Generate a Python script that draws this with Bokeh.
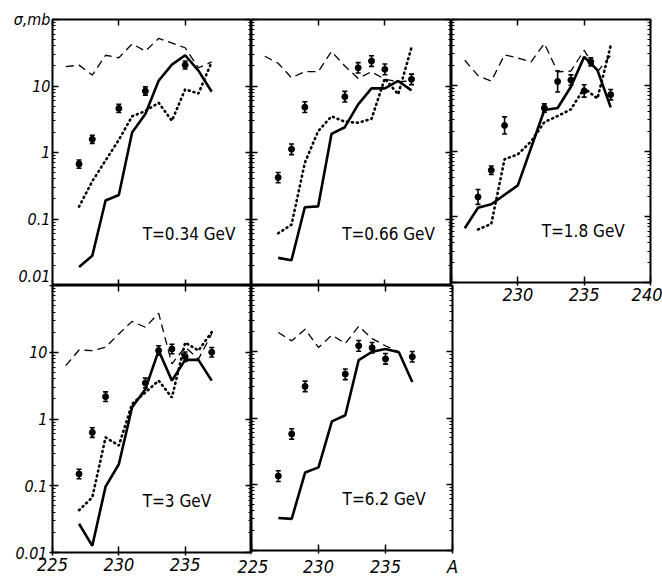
import json
from bokeh.plotting import figure
from bokeh.models import (FixedTicker, LogAxis, LinearAxis, Range1d, Whisker, TeeHead,
                          ColumnDataSource, CustomJSTickFormatter)
from bokeh.layouts import row, column
from bokeh.core.properties import value
from bokeh.embed import file_html
from bokeh.resources import INLINE

FONT = "DejaVu Sans Condensed, Liberation Sans Narrow, Liberation Sans, sans-serif"

# ---------------- data (mass number A, cross section sigma in mb) ----------------
# Panel 1: T = 0.34 GeV
solid1_x = [227, 228, 229, 230, 231, 232, 233, 234, 235, 236, 237]
solid1_y = [0.019, 0.028, 0.19, 0.23, 2.0, 3.8, 12, 21, 29, 17, 8.2]
dash1_x = [226, 227, 228, 229, 230, 231, 232, 233, 235, 236, 237]
dash1_y = [19.5, 20.6, 14.6, 29, 26.6, 43, 33.5, 52, 37.6, 18.8, 23]
dot1_x = [227, 228, 229, 230, 231, 232, 233, 234, 235, 236, 237]
dot1_y = [0.153, 0.37, 0.76, 1.55, 3.5, 4.2, 5.6, 3.0, 8.9, 7.7, 23]
pts1_x = [227, 228, 230, 232, 235]
pts1_y = [0.67, 1.58, 4.6, 8.4, 20.7]
pts1_lo = [0.58, 1.37, 4.0, 7.3, 18.0]
pts1_hi = [0.77, 1.82, 5.3, 9.7, 23.8]

# Panel 2: T = 0.66 GeV
solid2_x = [227, 228, 229, 230, 231, 232, 233, 234, 235, 236, 237]
solid2_y = [0.026, 0.024, 0.15, 0.155, 1.9, 2.4, 5.3, 9.2, 9.2, 11.9, 8.6]
dash2_x = [226, 227, 228, 229, 230, 231, 232, 233, 234, 235, 236, 237]
dash2_y = [28, 22, 13.3, 16.4, 16.4, 33, 20, 13, 16.4, 12.6, 11.6, 11.9]
dot2_x = [227, 228, 229, 230, 231, 232, 233, 234, 235, 236, 237]
dot2_y = [0.061, 0.082, 0.7, 2.1, 3.5, 2.9, 2.8, 3.2, 13, 7.5, 38]
pts2_x = [227, 228, 229, 232, 233, 234, 235, 237]
pts2_y = [0.42, 1.12, 4.8, 6.9, 18.8, 23.7, 17.8, 12.6]
pts2_lo = [0.35, 0.93, 4.0, 5.75, 15.7, 19.7, 14.8, 10.5]
pts2_hi = [0.5, 1.34, 5.8, 8.3, 22.5, 28.5, 21.4, 15.1]

# Panel 3: T = 1.8 GeV
solid3_x = [226, 227, 228, 230, 231, 232, 233, 234, 235, 236, 237]
solid3_y = [0.067, 0.137, 0.155, 0.3, 1.12, 4.2, 4.5, 9.5, 27, 17, 4.6]
dash3_x = [226, 227, 228, 229, 230, 231, 232, 233, 234, 235, 236, 237]
dash3_y = [24, 14, 11.6, 29, 26, 22.7, 43, 16, 16.4, 34, 16, 28.6]
dot3_x = [227, 228, 229, 230, 231, 232, 233, 234, 235, 236, 237]
dot3_y = [0.064, 0.078, 0.75, 0.89, 1.4, 2.75, 3.4, 4.3, 9, 6.3, 40]
pts3_x = [227, 228, 229, 232, 233, 234, 235, 235.5, 237]
pts3_y = [0.2, 0.51, 2.45, 4.5, 11.4, 12, 8.2, 22.7, 7.2]
pts3_lo = [0.154, 0.44, 1.81, 3.9, 7.9, 10, 6.6, 19.7, 6.0]
pts3_hi = [0.26, 0.59, 3.3, 5.2, 16.5, 14.4, 10.2, 26.1, 8.6]

# Panel 4: T = 3 GeV
solid4_x = [227, 228, 229, 230, 231, 232, 233, 234, 235, 236, 237]
solid4_y = [0.027, 0.0126, 0.097, 0.21, 1.5, 2.8, 10.6, 3.76, 7.7, 7.7, 3.76]
dash4_x = [226, 227, 228, 229, 230, 231, 232, 233, 234, 235, 236, 237]
dash4_y = [6.3, 10.8, 10.6, 11.9, 18.8, 29, 23.7, 38.5, 6.7, 12, 7.9, 18.8]
dot4_x = [227, 228, 229, 230, 231, 232, 233, 234, 235, 236, 237]
dot4_y = [0.043, 0.067, 0.53, 0.4, 1.68, 2.5, 3.76, 2.1, 14, 10.6, 20]
pts4_x = [227, 228, 229, 232, 233, 234, 235, 237]
pts4_y = [0.15, 0.63, 2.16, 3.47, 10.6, 11.2, 8.6, 10]
pts4_lo = [0.127, 0.53, 1.83, 2.94, 9.0, 9.5, 7.3, 8.5]
pts4_hi = [0.177, 0.74, 2.55, 4.1, 12.5, 13.2, 10.1, 11.8]

# Panel 5: T = 6.2 GeV
solid5_x = [227, 228, 229, 230, 231, 232, 233, 234, 235, 236, 237]
solid5_y = [0.031, 0.030, 0.15, 0.18, 0.89, 1.1, 7.5, 10, 11, 9.8, 3.5]
dash5_x = [227, 228, 229, 230, 231, 232, 233, 234, 235, 236]
dash5_y = [19.5, 14.6, 21.9, 11.6, 17.8, 13.3, 24.3, 15.8, 12.3, 10]
pts5_x = [227, 228, 229, 232, 233, 234, 235, 237]
pts5_y = [0.133, 0.575, 3.0, 4.6, 12.3, 11.5, 7.8, 8.4]
pts5_lo = [0.11, 0.48, 2.5, 3.8, 10.2, 9.6, 6.5, 7.0]
pts5_hi = [0.16, 0.69, 3.6, 5.5, 14.8, 13.8, 9.4, 10.1]

panel_labels = ["T=0.34 GeV", "T=0.66 GeV", "T=1.8 GeV", "T=3 GeV", "T=6.2 GeV"]

x_ticks = [225, 230, 235, 240]
y_ticks = [0.01, 0.1, 1, 10, 100]
y_minor = [m * 10.0 ** e for e in range(-2, 2) for m in range(2, 10)]
# top-left panel: its "0.01" label sits just above the panel's lower edge
y_label_ticks_top = [0.0129, 0.1, 1, 10, 100]


def fmt(mapping):
    return CustomJSTickFormatter(code="const m = %s; const s = String(tick); return (s in m) ? m[s] : '';"
                                 % json.dumps(mapping))


def add_axis(p, side, labels=None, ticks=None, tick_marks=True, tick_out=None):
    if side in ("left", "right"):
        ax = LogAxis(ticker=FixedTicker(ticks=ticks or y_ticks, minor_ticks=y_minor if tick_marks else []))
        ax.minor_tick_in = 3 if tick_marks else 0
    else:
        ax = LinearAxis(ticker=FixedTicker(ticks=ticks or x_ticks, minor_ticks=[]))
        ax.minor_tick_in = 0
    ax.minor_tick_out = 0
    ax.axis_line_color = None
    ax.major_tick_in = 6 if tick_marks else 0
    ax.major_tick_line_width = 1.5
    ax.minor_tick_line_width = 1
    if labels:
        ax.formatter = fmt(labels)
        ax.major_tick_out = (3 if tick_marks else 0) if tick_out is None else tick_out
        ax.major_label_standoff = 2
        ax.major_label_text_font = FONT
        ax.major_label_text_font_style = "italic"
        ax.major_label_text_font_size = "16px" if side in ("left", "right") else "18px"
        ax.major_label_text_color = "black"
    else:
        ax.formatter = fmt({})
        ax.major_tick_out = 0 if tick_out is None else tick_out
        ax.major_label_standoff = 0
        ax.major_label_text_font_size = "0px"
    p.add_layout(ax, side)
    return ax


def make_panel(fw, fh, left, right, top, bottom):
    p = figure(x_range=Range1d(225, 240), y_range=Range1d(0.01, 100), y_axis_type="log",
               frame_width=fw, frame_height=fh,
               min_border_left=left, min_border_right=right,
               min_border_top=top, min_border_bottom=bottom,
               x_axis_location=None, y_axis_location=None,
               output_backend="svg", toolbar_location=None)
    p.xgrid.visible = False
    p.ygrid.visible = False
    p.outline_line_color = "black"
    p.outline_line_width = 2
    p.background_fill_color = "white"
    return p


def draw(p, sx, sy, dx, dy, ox, oy, px, py, plo, phi, label, has_dot=True):
    p.line(dx, dy, line_color="black", line_width=1.3, line_dash="8 5")
    if has_dot:
        p.line(ox, oy, line_color="black", line_width=2.6, line_dash="1 4", line_cap="round")
    p.line(sx, sy, line_color="black", line_width=2.6)
    src = ColumnDataSource(dict(x=px, y=py, lo=plo, hi=phi))
    p.add_layout(Whisker(source=src, base="x", lower="lo", upper="hi", dimension="height",
                         line_color="black", line_width=1.6,
                         lower_head=TeeHead(size=5, line_width=1.6, line_color="black"),
                         upper_head=TeeHead(size=5, line_width=1.6, line_color="black")))
    p.scatter("x", "y", source=src, size=6, color="black")
    p.text(x=[231.8], y=[0.06], text=[label], text_font=value(FONT), text_font_size="17px",
           text_color="black", text_baseline="alphabetic")


# Panel 1
p1 = make_panel(199, 266, 52, 0, 19, 0)
add_axis(p1, "left", tick_out=0)  # tick marks only, right at the frame
add_axis(p1, "left", {"0.0129": "0.01", "0.1": "0.1", "1": "1", "10": "10", "100": "σ,mb"},
         ticks=y_label_ticks_top, tick_marks=False)
add_axis(p1, "right"); add_axis(p1, "above"); add_axis(p1, "below")
draw(p1, solid1_x, solid1_y, dash1_x, dash1_y, dot1_x, dot1_y, pts1_x, pts1_y, pts1_lo, pts1_hi, panel_labels[0])

# Panel 2
p2 = make_panel(200, 266, 0, 0, 19, 0)
add_axis(p2, "left"); add_axis(p2, "right"); add_axis(p2, "above"); add_axis(p2, "below")
draw(p2, solid2_x, solid2_y, dash2_x, dash2_y, dot2_x, dot2_y, pts2_x, pts2_y, pts2_lo, pts2_hi, panel_labels[1])

# Panel 3
p3 = make_panel(199, 263, 0, 12, 19, 29)
p3.border_fill_alpha = 0
p3.margin = (0, 0, -26, 0)
add_axis(p3, "left"); add_axis(p3, "right"); add_axis(p3, "above")
add_axis(p3, "below", {"230": "230", "235": "235", "240": "240"})
draw(p3, solid3_x, solid3_y, dash3_x, dash3_y, dot3_x, dot3_y, pts3_x, pts3_y, pts3_lo, pts3_hi, panel_labels[2])

# Panel 4
p4 = make_panel(199, 267, 52, 0, 0, 24)
add_axis(p4, "left", {"0.01": "0.01", "0.1": "0.1", "1": "1", "10": "10"})
add_axis(p4, "right"); add_axis(p4, "above")
add_axis(p4, "below", {"225": "225", "230": "230", "235": "235"})
draw(p4, solid4_x, solid4_y, dash4_x, dash4_y, dot4_x, dot4_y, pts4_x, pts4_y, pts4_lo, pts4_hi, panel_labels[3])

# Panel 5
p5 = make_panel(201, 265, 14, 10, 0, 26)
p5.border_fill_alpha = 0
p5.margin = (0, 0, 0, -14)
add_axis(p5, "left"); add_axis(p5, "right"); add_axis(p5, "above")
add_axis(p5, "below", {"225": "225", "230": "230", "235": "235", "240": "A"})
draw(p5, solid5_x, solid5_y, dash5_x, dash5_y, [], [], pts5_x, pts5_y, pts5_lo, pts5_hi, panel_labels[4], has_dot=False)

layout = column(row(p1, p2, p3), row(p4, p5))
open("out.html", "w").write(file_html(layout, INLINE))
